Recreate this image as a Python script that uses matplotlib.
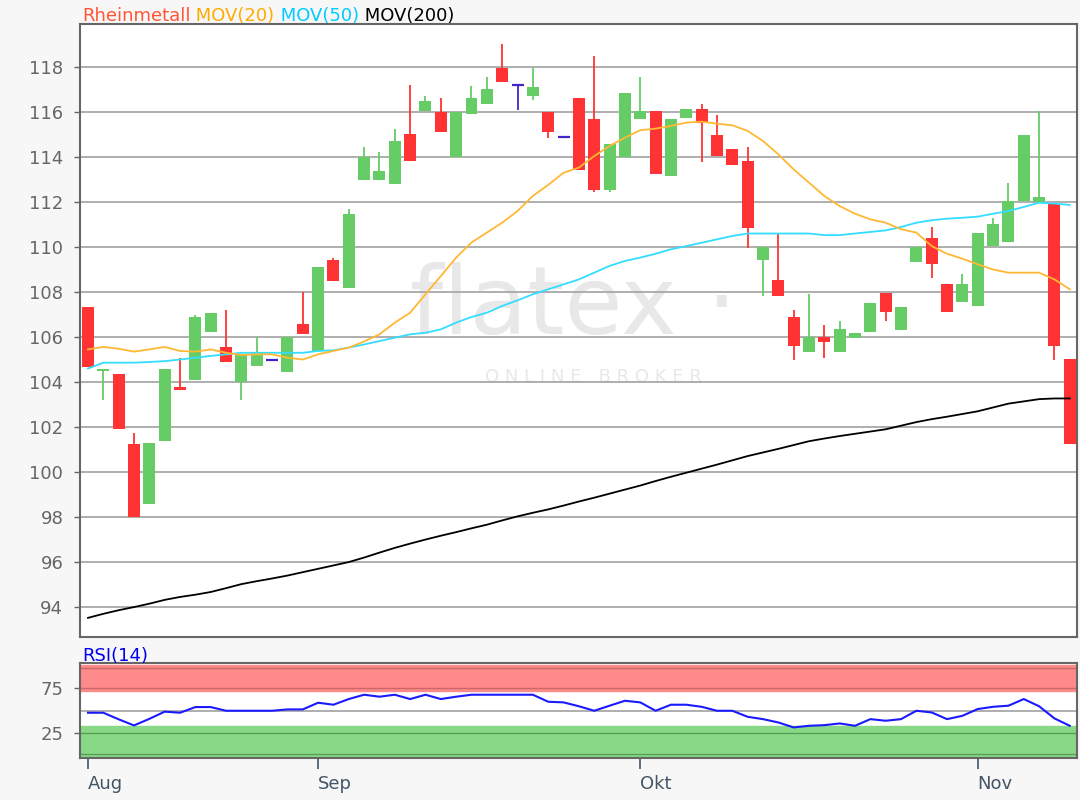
import numpy as np
import matplotlib.pyplot as plt

# daily candles, Rheinmetall
opens = [107.35, 104.47, 104.35, 101.25, 98.6, 101.4, 103.8, 104.1, 106.22, 105.57,
         104.0, 104.7, 105.0, 104.46, 106.56, 105.38, 109.41, 108.2, 113.0, 113.0,
         112.8, 115.0, 116.05, 116.0, 114.0, 115.93, 116.37, 117.94, 117.2, 116.71,
         116.0, 114.9, 116.6, 115.7, 112.52, 114.0, 115.67, 116.04, 113.16, 115.72,
         116.15, 114.98, 114.37, 113.82, 109.42, 108.52, 106.9, 105.33, 106.0, 105.33,
         105.97, 106.22, 107.97, 106.31, 109.35, 110.39, 108.34, 107.54, 107.38, 110.04,
         110.24, 112.04, 112.01, 111.93, 105.04]
highs = [107.35, 104.6, 104.35, 101.75, 101.3, 104.6, 105.05, 107.0, 107.08, 107.2,
         105.2, 106.0, 105.0, 106.0, 108.0, 109.13, 109.5, 111.7, 114.45, 114.2,
         115.25, 117.2, 116.7, 116.6, 116.0, 117.15, 117.57, 119.0, 117.2, 117.94,
         116.0, 114.9, 116.6, 118.5, 114.56, 116.86, 117.57, 116.04, 115.7, 116.15,
         116.35, 115.88, 114.37, 114.46, 110.0, 110.56, 107.18, 107.9, 106.53, 106.7,
         106.19, 107.53, 107.97, 107.35, 110.0, 110.9, 108.34, 108.79, 110.64, 111.27,
         112.86, 114.98, 116.04, 111.93, 105.04]
lows = [104.65, 103.2, 101.9, 98.0, 98.6, 101.4, 103.65, 104.1, 106.22, 104.9,
        103.2, 104.7, 105.0, 104.46, 106.12, 105.38, 108.47, 108.2, 113.0, 113.0,
        112.8, 113.8, 116.05, 115.1, 114.0, 115.93, 116.37, 117.33, 116.07, 116.53,
        114.83, 114.9, 113.4, 112.45, 112.45, 114.0, 115.67, 113.23, 113.16, 115.72,
        113.78, 114.04, 113.66, 109.94, 107.82, 107.82, 104.96, 105.33, 105.05, 105.33,
        105.97, 106.22, 106.73, 106.31, 109.35, 108.61, 107.11, 107.54, 107.38, 110.04,
        110.24, 112.04, 112.01, 104.96, 101.23]
closes = [104.65, 104.6, 101.9, 98.0, 101.3, 104.6, 103.65, 106.9, 107.08, 104.9,
          105.2, 105.3, 105.0, 106.0, 106.12, 109.13, 108.47, 111.45, 114.0, 113.38,
          114.7, 113.8, 116.5, 115.1, 116.0, 116.6, 117.04, 117.33, 117.2, 117.11,
          115.13, 114.9, 113.4, 112.52, 114.56, 116.86, 116.04, 113.23, 115.7, 116.15,
          115.53, 114.04, 113.66, 110.86, 110.0, 107.82, 105.6, 106.0, 105.8, 106.37,
          106.19, 107.53, 107.11, 107.35, 110.0, 109.26, 107.11, 108.34, 110.64, 111.01,
          112.04, 114.98, 112.24, 105.6, 101.23]

mov20 = [105.45, 105.56, 105.48, 105.35, 105.45, 105.56, 105.38, 105.35, 105.45, 105.3,
         105.2, 105.23, 105.23, 105.08, 105.0, 105.23, 105.38, 105.53, 105.8, 106.12,
         106.64, 107.08, 107.9, 108.71, 109.53, 110.2, 110.64, 111.08, 111.6, 112.27,
         112.76, 113.3, 113.53, 114.04, 114.49, 114.86, 115.19, 115.26, 115.38, 115.53,
         115.57, 115.48, 115.41, 115.16, 114.71, 114.12, 113.45, 112.86, 112.27, 111.82,
         111.48, 111.23, 111.08, 110.79, 110.64, 110.04, 109.7, 109.48, 109.23, 109.0,
         108.86, 108.86, 108.86, 108.56, 108.12]
mov50 = [104.6, 104.86, 104.86, 104.86, 104.89, 104.93, 105.0, 105.08, 105.16, 105.23,
         105.3, 105.3, 105.3, 105.3, 105.3, 105.38, 105.41, 105.53, 105.67, 105.82,
         105.97, 106.12, 106.19, 106.34, 106.64, 106.89, 107.08, 107.38, 107.63, 107.9,
         108.12, 108.34, 108.56, 108.86, 109.16, 109.38, 109.53, 109.7, 109.9, 110.04,
         110.19, 110.34, 110.49, 110.6, 110.6, 110.6, 110.6, 110.6, 110.53, 110.53,
         110.6, 110.67, 110.74, 110.89, 111.08, 111.19, 111.26, 111.3, 111.35, 111.48,
         111.6, 111.78, 111.97, 111.93, 111.87]
mov200 = [93.52, 93.7, 93.86, 94.0, 94.15, 94.32, 94.45, 94.55, 94.67, 94.84,
          95.02, 95.15, 95.27, 95.4, 95.55, 95.7, 95.85, 96.0, 96.2, 96.42,
          96.63, 96.82, 97.0, 97.17, 97.33, 97.5, 97.66, 97.85, 98.03, 98.19,
          98.34, 98.51, 98.69, 98.86, 99.04, 99.22, 99.4, 99.6, 99.79, 99.97,
          100.15, 100.33, 100.52, 100.71, 100.87, 101.03, 101.2, 101.37, 101.49, 101.6,
          101.7, 101.8, 101.9, 102.06, 102.22, 102.35, 102.46, 102.58, 102.7, 102.87,
          103.04, 103.14, 103.24, 103.27, 103.27]
rsi = [47.8, 47.8, 40.5, 33.7, 41.0, 49.0, 47.8, 54.1, 54.1, 50.0,
       50.0, 50.0, 50.0, 51.5, 51.5, 58.9, 56.7, 63.0, 67.8, 65.6,
       67.8, 63.0, 67.8, 63.0, 65.6, 67.8, 67.8, 67.8, 67.8, 67.8,
       60.0, 59.3, 55.0, 50.0, 55.6, 61.1, 59.3, 50.0, 56.7, 56.7,
       54.4, 50.0, 50.0, 43.3, 40.7, 37.0, 31.5, 33.3, 34.0, 35.9,
       33.3, 40.7, 38.9, 40.7, 50.0, 48.1, 40.7, 44.4, 51.9, 54.4,
       55.6, 63.0, 55.0, 41.5, 33.3]

month_labels = ["Aug", "Sep", "Okt", "Nov"]
month_pos = [0, 15, 36, 58]
price_ticks = list(range(94, 119, 2))

GREEN = "#66cc66"
RED = "#ff3333"
DOJI = "#4422cc"


def main():
    o = np.array(opens)
    h = np.array(highs)
    l = np.array(lows)
    c = np.array(closes)
    x = np.arange(len(o))

    fig = plt.figure(figsize=(10.8, 8), dpi=100, facecolor="#f7f7f7")
    ax = fig.add_axes([80 / 1080, 1 - 637 / 800, 997 / 1080, 613 / 800])
    ax2 = fig.add_axes([80 / 1080, 1 - 758.3 / 800, 997 / 1080, 95 / 800])

    # price panel
    for p in price_ticks:
        ax.axhline(p, color="#a8a8a8", lw=1.3, zorder=1)

    # watermark
    ax.text(0.495, 0.537, "flatex \u00b7", transform=ax.transAxes, fontsize=68,
            color="#e8e8e8", ha="center", va="center", zorder=0.5)
    ax.text(0.515, 0.424, "O N L I N E   B R O K E R", transform=ax.transAxes,
            fontsize=13, color="#e8e8e8", ha="center", va="center", zorder=0.5)

    colors = np.where(c > o, GREEN, np.where(c < o, RED, DOJI))
    ax.vlines(x, l, h, colors=colors, lw=1.3, zorder=2)
    up = c > o
    dn = c < o
    eq = c == o
    ax.bar(x[up], (c - o)[up], bottom=o[up], width=0.78, color=GREEN, zorder=3)
    ax.bar(x[dn], (o - c)[dn], bottom=c[dn], width=0.78, color=RED, zorder=3)
    ax.hlines(o[eq], x[eq] - 0.39, x[eq] + 0.39, colors=DOJI, lw=1.6, zorder=3)

    ax.plot(x, mov200, color="black", lw=1.3, zorder=4)
    ax.plot(x, mov50, color="#33ddff", lw=1.3, zorder=4)
    ax.plot(x, mov20, color="#ffb833", lw=1.3, zorder=4)

    ax.set_xlim(-0.52, 64.47)
    ax.set_ylim(92.67, 119.91)
    ax.set_yticks(price_ticks)
    ax.set_xticks([])
    ax.tick_params(axis="y", length=4, width=1, color="#666666",
                   labelcolor="#666666", labelsize=13, pad=8)
    for s in ax.spines.values():
        s.set_color("#666666")
        s.set_linewidth(1.5)

    # title
    t = fig.text(82 / 1080, 1 - 21 / 800, "Rheinmetall", color="#ff5533",
                 fontsize=13, va="baseline")
    for label, col in [(" MOV(20)", "#ffaa00"), (" MOV(50)", "#00ccff"),
                       (" MOV(200)", "black")]:
        t = ax.annotate(label, xy=(1, 0), xycoords=t, va="bottom",
                        color=col, fontsize=13, annotation_clip=False)

    # RSI panel
    ax2.axhspan(72, 101, color="#ff8a8a", zorder=1)
    ax2.axhspan(-1.7, 32.6, color="#88d888", zorder=1)
    for lv in [97.2, 75]:
        ax2.axhline(lv, color="#cc6666", lw=1.0, zorder=2)
    for lv in [25, 2]:
        ax2.axhline(lv, color="#55a055", lw=1.0, zorder=2)
    ax2.axhline(50, color="#a8a8a8", lw=1.3, zorder=2)
    ax2.plot(x, rsi, color="#1a1aff", lw=1.5, zorder=3)
    ax2.set_xlim(-0.52, 64.47)
    ax2.set_ylim(-2.8, 102.7)
    ax2.set_yticks([25, 75])
    ax2.set_xticks(month_pos)
    ax2.set_xticklabels(month_labels, ha="left")
    ax2.tick_params(axis="y", length=4, width=1, color="#666666",
                    labelcolor="#666666", labelsize=13, pad=8)
    ax2.tick_params(axis="x", length=8, width=1.2, color="#445566",
                    labelcolor="#445566", labelsize=13, pad=4)
    for s in ax2.spines.values():
        s.set_color("#666666")
        s.set_linewidth(1.5)
    fig.text(82 / 1080, 1 - 661 / 800, "RSI(14)", color="#0000ee",
             fontsize=13, va="baseline")

    fig.savefig("out.png", dpi=100, facecolor=fig.get_facecolor())


if __name__ == "__main__":
    main()
